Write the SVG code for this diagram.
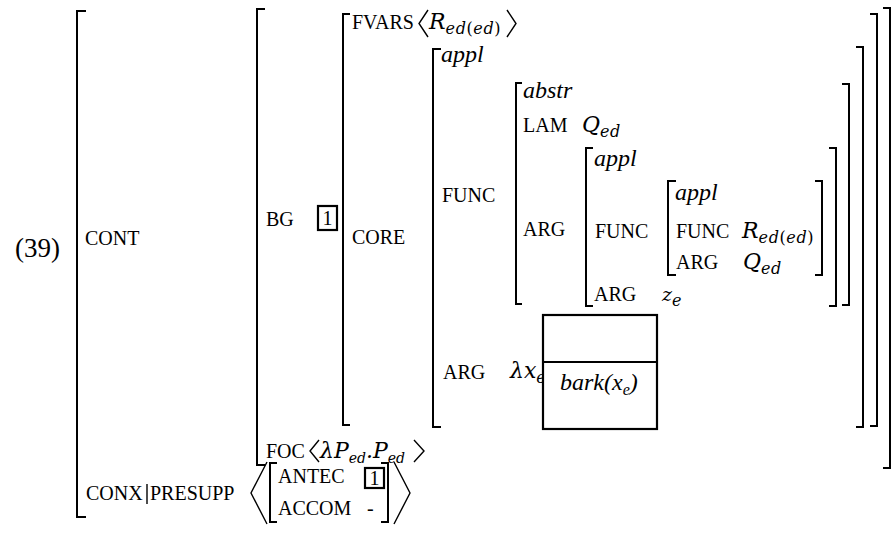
<svg xmlns="http://www.w3.org/2000/svg" width="896" height="541" viewBox="0 0 896 541">
<style>
text{font-family:"Liberation Serif","Times New Roman",serif;fill:#000}
.sc{font-size:20px}
.it{font-style:italic;font-size:24px}
.m{font-family:"DejaVu Serif",serif;font-style:italic;font-size:22px}
.s{font-size:16px;letter-spacing:0.6px}
.t{font-size:14px;letter-spacing:0}
.up{font-style:normal}
.br{fill:none;stroke:#000;stroke-width:2}
.ab{fill:none;stroke:#000;stroke-width:1.4}
.bx{fill:#fff;stroke:#000;stroke-width:2.2}
</style>
<rect width="896" height="541" fill="#fff"/>
<g id="label"><text x="15" y="257" style="font-size:27px">(39)</text></g>
<g id="brackets">
<path class="br" d="M86,11H77V517H86"/>
<path class="br" d="M265,9H257V465H265"/>
<path class="br" d="M350,14H343V425H350"/>
<path class="br" d="M441,49H433V427H441"/>
<path class="br" d="M522,83H516V304H522"/>
<path class="br" d="M593,148H586V306H593"/>
<path class="br" d="M676,181H668V275H676"/>
<path class="br" d="M815,181H822V275H815"/>
<path class="br" d="M829,148H836V306H829"/>
<path class="br" d="M842,84H849V305H842"/>
<path class="br" d="M856,47H863V427H856"/>
<path class="br" d="M870,14H877V426H870"/>
<path class="br" d="M883,8H890V468H883"/>
<path class="br" d="M277,463H270V522H277"/>
<path class="br" d="M381,463H388V522H381"/>
<path class="ab" d="M428,10L419,23.5L428,37"/>
<path class="ab" d="M507,10L516,23.5L507,37"/>
<path class="ab" d="M319,440L310,451L319,462"/>
<path class="ab" d="M414,440L424,451L414,462"/>
<path class="ab" d="M267,462L251,493L267,524"/>
<path class="ab" d="M394,462L410,493L394,524"/>
<path class="ab" d="M147,484V504"/>
</g>
<g id="cont"><text class="sc" x="85" y="245">CONT</text></g>
<g id="bg">
<text class="sc" x="266" y="226">BG</text>
<rect class="bx" x="318" y="206" width="19" height="24" fill="none"/>
<text x="327.5" y="225" text-anchor="middle" style="font-size:20px">1</text>
</g>
<g id="fvars">
<text class="sc" x="352" y="29">FVARS</text>
<text class="m" x="429" y="29">R<tspan class="s" dy="5">ed<tspan class="up">(</tspan>ed<tspan class="up">)</tspan></tspan></text>
</g>
<g id="core"><text class="sc" x="352" y="244">CORE</text></g>
<g id="appl1"><text class="it" x="441" y="62">appl</text>
<text class="sc" x="442" y="202">FUNC</text>
<text class="sc" x="443" y="379">ARG</text>
</g>
<g id="abstr">
<text class="it" x="523" y="98">abstr</text>
<text class="sc" x="523" y="132">LAM</text>
<text class="m" x="582" y="132">Q<tspan class="s" dy="5">ed</tspan></text>
<text class="sc" x="523" y="236">ARG</text>
</g>
<g id="appl2">
<text class="it" x="594" y="166">appl</text>
<text class="sc" x="595" y="238">FUNC</text>
<text class="sc" x="594" y="301">ARG</text>
<text class="m" x="662" y="301" style="font-size:19px">z<tspan class="s" dy="5">e</tspan></text>
</g>
<g id="appl3">
<text class="it" x="675" y="200">appl</text>
<text class="sc" x="676" y="238">FUNC</text>
<text class="m" x="742" y="238">R<tspan class="s" dy="5">ed<tspan class="up">(</tspan>ed<tspan class="up">)</tspan></tspan></text>
<text class="sc" x="676" y="269">ARG</text>
<text class="m" x="743" y="269">Q<tspan class="s" dy="5">ed</tspan></text>
</g>
<g id="lambda">
<text class="m" x="510" y="378">λx<tspan class="s" dy="5">e</tspan></text>
<rect class="bx" x="543" y="315" width="114" height="114"/>
<path class="br" d="M543,362H657"/>
<text class="it" x="560" y="390">bark(x<tspan style="font-size:16px" dy="5">e</tspan><tspan dy="-5">)</tspan></text>
</g>
<g id="foc">
<text class="sc" x="266" y="458">FOC</text>
<text class="m" x="320" y="458">λP<tspan class="t" dy="5">ed</tspan><tspan dy="-5">.P</tspan><tspan class="t" dy="5">ed</tspan></text>
</g>
<g id="conx">
<text class="sc" x="86" y="500">CONX</text>
<text class="sc" x="150" y="500">PRESUPP</text>
<text class="sc" x="278" y="483">ANTEC</text>
<rect class="bx" x="365" y="468" width="19" height="20" fill="none"/>
<text x="374.5" y="485" text-anchor="middle" style="font-size:20px">1</text>
<text class="sc" x="278" y="515">ACCOM</text>
<text class="sc" x="367" y="515">-</text>
</g>
</svg>
